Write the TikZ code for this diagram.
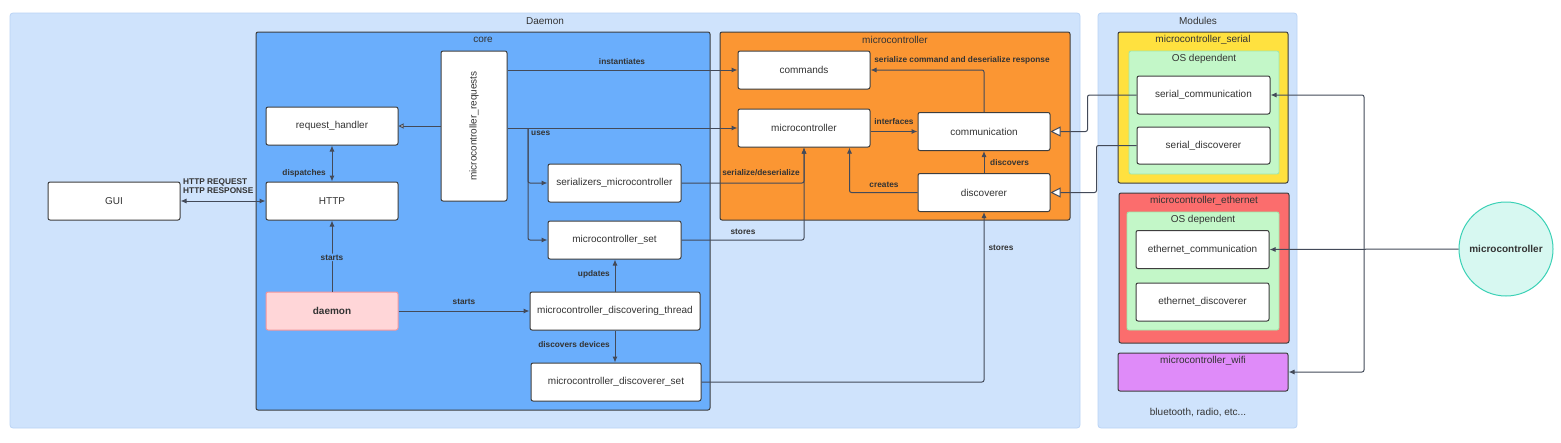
\documentclass[tikz,border=0pt]{standalone}
\usepackage{fontspec}
\setmainfont{Liberation Sans}
\usetikzlibrary{arrows.meta,calc}
\definecolor{bgblue}{HTML}{CFE3FC}
\definecolor{bgblueline}{HTML}{BAD4F6}
\definecolor{coreblue}{HTML}{6AAEFC}
\definecolor{mcorange}{HTML}{FB9633}
\definecolor{ylw}{HTML}{FFE13F}
\definecolor{grn}{HTML}{C3F7C8}
\definecolor{grnline}{HTML}{9FE7A9}
\definecolor{redbox}{HTML}{FB6D6D}
\definecolor{purp}{HTML}{DF8BF9}
\definecolor{pinkbox}{HTML}{FFD6D8}
\definecolor{pinkline}{HTML}{F2959C}
\definecolor{mint}{HTML}{D7F8F1}
\definecolor{mintline}{HTML}{3BD1B6}
\definecolor{edgec}{HTML}{434A59}
\definecolor{boxline}{HTML}{3E3E3E}
\definecolor{txt}{HTML}{333333}
\tikzset{
  box/.style={draw=boxline, fill=white, rounded corners=2pt, line width=1pt,
    font=\fontsize{10}{12}\selectfont, text=txt, inner sep=0pt},
  cont/.style={draw=boxline, rounded corners=2pt, line width=1pt},
  ttl/.style={font=\fontsize{10}{12}\selectfont, text=txt, inner sep=0pt},
  arr/.style={draw=edgec, line width=1pt, rounded corners=2pt, -{Latex[length=6pt,width=5pt]}},
  biarr/.style={draw=edgec, line width=1pt, {Latex[length=6pt,width=5pt]}-{Latex[length=6pt,width=5pt]}},
  openarr/.style={draw=edgec, line width=1pt, rounded corners=2pt, -{Triangle[length=10pt,width=10pt,fill=white]}},
  smallopen/.style={draw=edgec, line width=1pt, -{Triangle[length=5pt,width=5pt,fill=white]}},
  elabel/.style={font=\bfseries\fontsize{8.3}{9.5}\selectfont, text=txt, inner sep=1pt},
}
\begin{document}
\begin{tikzpicture}[x=1pt,y=-1pt]
\useasboundingbox (0,0) rectangle (1561,442);
\fill[white] (0,0) rectangle (1561,442);
% containers
\draw[fill=bgblue, draw=bgblueline, line width=0.8pt, rounded corners=3pt] (10,13) rectangle (1080,428);
\node[ttl] (tdaemon) at (545,21) {Daemon};
\draw[fill=bgblue, draw=bgblueline, line width=0.8pt, rounded corners=3pt] (1098,13) rectangle (1297,428);
\node[ttl] (tmodules) at (1198,21) {Modules};
\draw[cont, fill=coreblue] (256,32) rectangle (710,410);
\node[ttl] (tcore) at (483,39.5) {core};
\draw[cont, fill=mcorange] (720,32) rectangle (1070,220);
\node[ttl] (tmc) at (895,39.5) {microcontroller};
% modules
\draw[cont, fill=ylw] (1118,32) rectangle (1288,183);
\node[ttl] (tser) at (1203,39.5) {microcontroller\_serial};
\draw[draw=grnline, fill=grn, line width=0.8pt, rounded corners=2pt] (1129,51) rectangle (1279,174);
\node[ttl] (tos1) at (1204,58.5) {OS dependent};
\draw[cont, fill=redbox] (1119,193) rectangle (1289,343);
\node[ttl] (teth) at (1204,200.5) {microcontroller\_ethernet};
\draw[draw=grnline, fill=grn, line width=0.8pt, rounded corners=2pt] (1127,212) rectangle (1279,330);
\node[ttl] (tos2) at (1203,219.5) {OS dependent};
\node[cont, fill=purp, minimum width=170pt, minimum height=38pt, inner sep=0pt] (wifi) at (1203,372) {};
\node[ttl] (twifi) at (1203,361) {microcontroller\_wifi};
\node[ttl] (tbt) at (1198,413) {bluetooth, radio, etc...};
% nodes
\node[box, minimum width=132pt, minimum height=38pt] (gui) at (114,201) {GUI};
\node[box, minimum width=132pt, minimum height=38pt] (rh) at (332,126) {request\_handler};
\node[box, minimum width=132pt, minimum height=38pt] (http) at (332,201) {HTTP};
\node[box, minimum width=66pt, minimum height=150pt] (req) at (474,126) {};
\node[ttl, rotate=90] (reqtext) at (req.center) {microcontroller\_requests};
\node[box, minimum width=133pt, minimum height=38pt] (ser) at (614.5,183) {serializers\_microcontroller};
\node[box, minimum width=133pt, minimum height=38pt] (mset) at (614.5,240) {microcontroller\_set};
\node[box, draw=pinkline, fill=pinkbox, minimum width=132pt, minimum height=38pt, font=\bfseries\fontsize{10}{12}\selectfont] (daemon) at (332,311) {daemon};
\node[box, minimum width=170pt, minimum height=38pt] (dthread) at (615,311) {microcontroller\_discovering\_thread};
\node[box, minimum width=170pt, minimum height=38pt] (dset) at (616,382) {microcontroller\_discoverer\_set};
\node[box, minimum width=132pt, minimum height=38pt] (cmd) at (804,70) {commands};
\node[box, minimum width=132pt, minimum height=38pt] (mc) at (804,128) {microcontroller};
\node[box, minimum width=132pt, minimum height=38pt] (comm) at (984,131.5) {communication};
\node[box, minimum width=132pt, minimum height=38pt] (disc) at (984,192.5) {discoverer};
\node[box, minimum width=133pt, minimum height=38pt] (scom) at (1203.5,95) {serial\_communication};
\node[box, minimum width=133pt, minimum height=37pt] (sdisc) at (1203.5,145.5) {serial\_discoverer};
\node[box, minimum width=133pt, minimum height=38pt] (ecom) at (1202.5,249.5) {ethernet\_communication};
\node[box, minimum width=133pt, minimum height=38pt] (edisc) at (1202.5,302) {ethernet\_discoverer};
\node[circle, draw=mintline, fill=mint, line width=1pt, minimum size=94pt, inner sep=0pt,
  font=\bfseries\fontsize{10}{12}\selectfont, text=txt] (mcu) at (1506,249) {microcontroller};
% connectors daemon side
\draw[biarr] (gui.east) -- (http.west);
\node[elabel, align=left, anchor=west] (lhttp) at (182,186) {HTTP REQUEST\\HTTP RESPONSE};
\draw[biarr] (rh.south) -- (http.north);
\node[elabel, anchor=east] (ldisp) at (327,173) {dispatches};
\draw[smallopen] (req.west |- rh.east) -- (rh.east);
\draw[arr] (daemon.north) -- (http.south) node[elabel, pos=0.48, fill=coreblue] (lstarts1) {starts};
\draw[arr] (daemon.east) -- (dthread.west);
\node[elabel] (lstarts2) at (464,302) {starts};
\draw[arr] (dthread.north) -- (dthread.north |- mset.south);
\node[elabel, anchor=east] (lupd) at (611,274) {updates};
\draw[arr] (dthread.south) -- (dthread.south |- dset.north);
\node[elabel, anchor=east] (ldd) at (611,345) {discovers devices};
\draw[arr] (req.east |- cmd.west) -- (cmd.west);
\node[elabel] (linst) at (622,62) {instantiates};
\draw[arr] (req.east |- mc.west) -- (mc.west);
\node[elabel, anchor=west] (luses) at (530,133.5) {uses};
\coordinate (split) at (528,128);
\draw[arr] (split) |- (ser.west);
\draw[arr] (split) |- (mset.west);
\draw[arr] (ser.east) -| (mc.south);
\node[elabel] (lserdes) at (761,173) {serialize/deserialize};
\draw[arr] (mset.east) -| (mc.south);
\node[elabel] (lstores1) at (743,232) {stores};
\draw[arr] (dset.east) -| (disc.south);
\node[elabel] (lstores2) at (1001,248) {stores};
% microcontroller internals
\draw[arr] (mc.east |- comm.west) -- (comm.west);
\node[elabel] (lint) at (894,122) {interfaces};
\draw[arr] (comm.north) |- (cmd.east);
\node[elabel] (lsercmd) at (962,60) {serialize command and deserialize response};
\draw[arr] (disc.north) -- (comm.south);
\node[elabel, anchor=west] (ldisc) at (989,163) {discovers};
\draw[arr] (disc.west) -| ([xshift=-21pt]mc.south east);
\node[elabel] (lcreates) at (884,185) {creates};
% modules to daemon
\draw[openarr] (scom.west) -- ++(-49,0) |- (comm.east);
\draw[openarr] (sdisc.west) -- ++(-40,0) |- (disc.east);
% microcontroller device
\coordinate (junc) at (1364,249);
\draw[arr] (mcu.west) -- (ecom.east);
\draw[arr] (junc) |- (scom.east);
\draw[arr] (junc) |- (wifi.east);
\end{tikzpicture}
\end{document}
